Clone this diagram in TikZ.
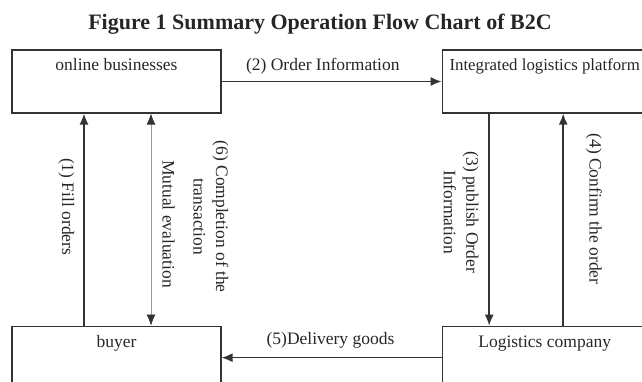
\documentclass[tikz,border=0pt]{standalone}
\usepackage{fontspec}
\setmainfont{Liberation Serif}
\usepackage{tikz}
\usetikzlibrary{arrows.meta,positioning}
\definecolor{ink}{HTML}{333333}

\begin{document}
\begin{tikzpicture}[
  x=1pt, y=-1pt,
  node distance=220pt,
  party/.style={draw=ink, line width=1.2pt, minimum width=209pt, inner sep=0pt, text height=21pt, text depth=42pt, text=black!85, font=\fontsize{17.5}{22.5}\selectfont},
  flow/.style={-{Latex[length=11pt, width=9pt]}, draw=ink, line width=1.5pt},
  mutual/.style={{Latex[length=11pt, width=9pt, color=ink]}-{Latex[length=11pt, width=9pt, color=ink]}, draw=black!40, line width=.7pt},
  note/.style={inner sep=1pt, align=center, text=black!85, font=\fontsize{17.5}{22.5}\selectfont}
]
\useasboundingbox (0,0) rectangle (642,382);
\clip (0,0) rectangle (642,382);
\node[text=black!85, font=\bfseries\fontsize{22}{26}\selectfont] (title) at (320,24) {Figure 1 Summary Operation Flow Chart of B2C};
\node[party] (online) at (116.5,81.5) {online businesses};
\node[party, minimum width=205pt, right=of online, font=\fontsize{16.8}{22.5}\selectfont] (platform) {Integrated logistics platform};
\node[party, below=212pt of online] (buyer) {buyer};
\node[party, minimum width=205pt, below=212pt of platform] (logistics) {Logistics company};
\draw[flow] (online) -- node[note, pos=.46, above=6pt] (orderinfo) {(2) Order Information} (platform);
\draw[flow] ([xshift=-55.5pt]platform.south) -- node[note, pos=.465, xshift=-9pt, rotate=-90, anchor=north] (publish) {(3) publish Order\\Information} ([xshift=-55.5pt]logistics.north);
\draw[flow] ([xshift=18.5pt]logistics.north) -- node[note, pos=.55, xshift=21pt, rotate=-90, anchor=south] (confirm) {(4) Confirm the order} ([xshift=18.5pt]platform.south);
\draw[flow] (logistics) -- node[note, pos=.505, above=7.5pt] (delivery) {(5)Delivery goods} (buyer);
\draw[flow] ([xshift=-32.5pt]buyer.north) -- node[note, pos=.561, xshift=-8pt, rotate=-90, anchor=north] (fill) {(1) Fill orders} ([xshift=-32.5pt]online.south);
\draw[mutual] ([xshift=34.5pt]buyer.north) -- node[note, pos=.479, xshift=10pt, rotate=-90, anchor=south] (evaluate) {Mutual evaluation} node[note, pos=.514, xshift=41pt, rotate=-90, anchor=south] (complete) {(6) Completion of the\\transaction} ([xshift=34.5pt]online.south);
\end{tikzpicture}
\end{document}
